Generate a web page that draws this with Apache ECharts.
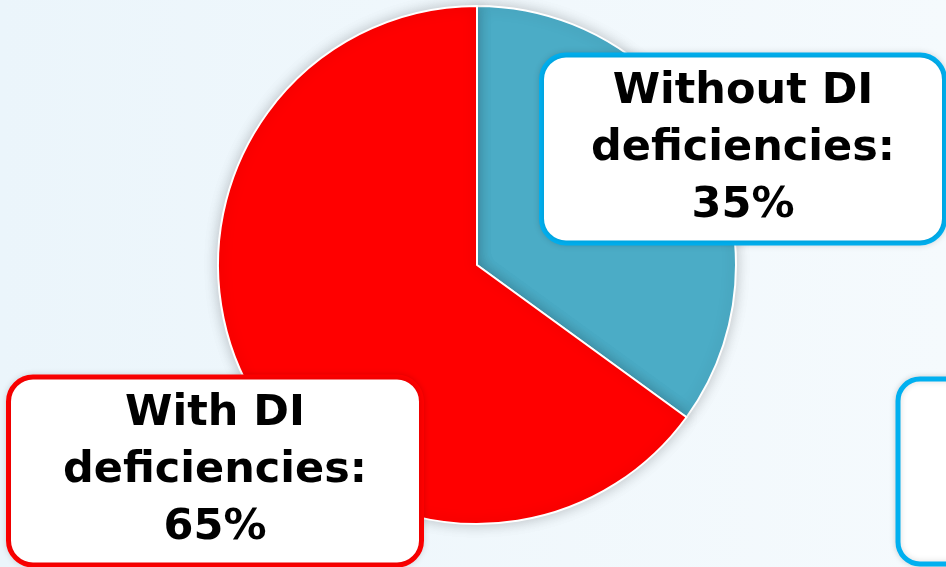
<!DOCTYPE html>
<html>
<head>
<meta charset="utf-8">
<script src="https://cdn.jsdelivr.net/npm/echarts@6/dist/echarts.min.js"></script>
<style>
  html, body { margin: 0; padding: 0; }
  #chart { width: 946px; height: 567px; }
</style>
</head>
<body>
<div id="chart"></div>
<script>
// slice names and shares (%)
const categories = ['Without DI\ndeficiencies', 'With DI\ndeficiencies'];
const values = [35, 65];
const sliceColors = ['#4bacc6', '#ff0000'];
const boxColors = ['#00b0f0', '#ff0000'];
// where each label box sits (centre)
const boxCenters = [[743, 149], [215, 471]];

const chart = echarts.init(document.getElementById('chart'));

const option = {
  backgroundColor: {
    type: 'linear', x: 0, y: 0, x2: 1, y2: 0,
    colorStops: [
      {offset: 0, color: '#ebf5fb'},
      {offset: 1, color: '#f5fafd'}
    ]
  },
  animation: false,
  graphic: [
    {
      // third label box, cut off at the right edge
      type: 'rect',
      shape: {x: 898, y: 379, width: 120, height: 185, r: 22},
      style: {fill: '#fff', stroke: '#00b0f0', lineWidth: 5,
        shadowBlur: 6, shadowColor: 'rgba(0,0,0,0.15)'}
    }
  ],
  series: [
    {
      type: 'pie',
      center: [477, 265],
      radius: 259,
      startAngle: 90,
      clockwise: true,
      z: 1,
      itemStyle: {
        borderColor: '#fff',
        borderWidth: 2,
        shadowBlur: 14,
        shadowColor: 'rgba(0,0,0,0.22)'
      },
      emphasis: {disabled: true},
      labelLine: {show: false},
      label: {
        show: true,
        formatter: '{b}:\n{c}%',
        fontFamily: 'DejaVu Sans',
        fontWeight: 'bold',
        fontSize: 43,
        lineHeight: 57,
        color: '#000',
        align: 'center',
        backgroundColor: '#fff',
        borderWidth: 5,
        borderRadius: 22,
        width: 398,
        padding: [15, 0, -3, 0],
        shadowBlur: 6,
        shadowColor: 'rgba(0,0,0,0.15)'
      },
      labelLayout: function (params) {
        const c = boxCenters[params.dataIndex];
        return {x: c[0], y: c[1], align: 'center', verticalAlign: 'middle'};
      },
      data: categories.map(function (name, i) {
        return {
          name: name,
          value: values[i],
          itemStyle: {color: sliceColors[i]},
          label: {borderColor: boxColors[i], width: i === 0 ? 398 : 408}
        };
      })
    }
  ]
};

chart.setOption(option);
</script>
</body>
</html>
